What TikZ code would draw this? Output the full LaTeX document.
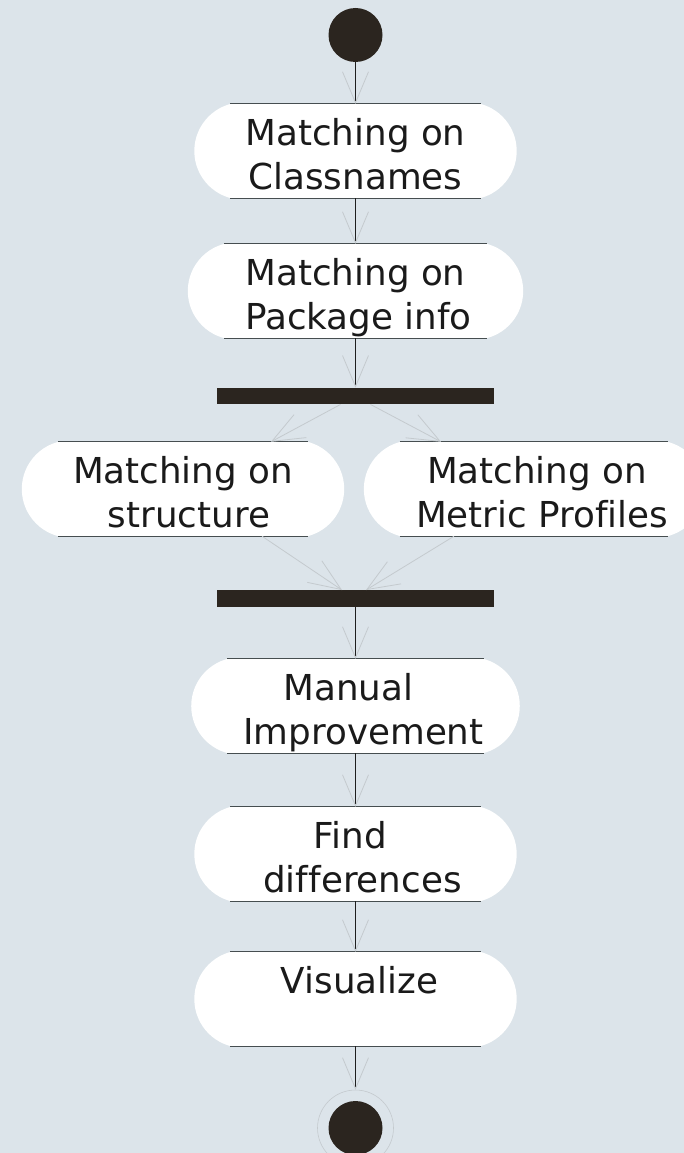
\documentclass[tikz,border=0pt]{standalone}
\usepackage{fontspec}
\setmainfont[Ligatures=NoCommon]{DejaVu Sans}
\usetikzlibrary{arrows.meta,calc,backgrounds}
\definecolor{bg}{RGB}{220,228,234}
\definecolor{ink}{RGB}{43,37,31}
\definecolor{rim}{RGB}{70,78,80}
\definecolor{wire}{RGB}{30,30,30}
\definecolor{pale}{RGB}{196,202,206}
\definecolor{txt}{RGB}{26,26,26}
\tikzset{
 act/.style={rectangle, inner sep=0pt, minimum width=250pt, minimum height=94pt,
   align=center, text=txt, font=\fontsize{35.7}{44}\selectfont,
   text height=83pt, text depth=7pt},
 oneline/.style={text height=27pt, text depth=39pt},
 bar/.style={rectangle, fill=ink, inner sep=0pt, minimum width=277pt, minimum height=16.5pt},
 startdot/.style={circle, fill=ink, inner sep=0pt, minimum size=54pt},
 enddot/.style={circle, draw=pale, line width=0.6pt, inner sep=0pt, minimum size=76pt,
   path picture={\fill[ink] (path picture bounding box.center) circle[radius=27pt];}},
 flow/.style={draw=wire, line width=0.9pt,
   -{Straight Barb[length=31pt,width=26pt,color=pale,line width=0.8pt]}},
 pflow/.style={draw=pale, line width=0.8pt,
   -{Straight Barb[length=32pt,width=26pt,line width=0.8pt]}},
 rimline/.style={draw=rim, line width=1.2pt},
}
\newcommand\actshape[1]{%
  \begin{scope}
    \clip ($(#1.north west)+(-40,0)$) rectangle ($(#1.south east)+(40,0)$);
    \fill[white] (#1.north west) rectangle (#1.south east);
    \fill[white] ($(#1.west)+(12.7,0)$) circle[radius=48.7pt];
    \fill[white] ($(#1.east)+(-12.7,0)$) circle[radius=48.7pt];
  \end{scope}
  \path[rimline] (#1.north west) -- (#1.north east) (#1.south west) -- (#1.south east);
}
\begin{document}
\begin{tikzpicture}[x=1pt,y=-1pt]
\useasboundingbox (0,0) rectangle (684,1153);
\node[startdot] (start) at (355.5,35) {};
\node[act] (n1) at (355.5,151) {Matching on\\Classnames};
\node[act, minimum width=263pt] (n2) at (355.5,291) {Matching on\\\hspace*{6pt}Package info};
\node[bar] (fork) at (355.5,396) {};
\node[act] (n3) at (183,489) {Matching on\\\hspace*{12pt}structure};
\node[act] (n4) at (534,489) {\hspace*{6pt}Matching on\\\hspace*{16pt}Metric Profiles};
\node[bar] (join) at (355.5,598.5) {};
\node[act] (n5) at (355.5,706) {Manual\hspace*{14pt}\\\hspace*{16pt}Improvement};
\node[act] (n6) at (355.5,854) {Find\hspace*{10pt}\\\hspace*{14pt}differences};
\node[act, oneline] (n7) at (355.5,999) {\hspace*{8pt}Visualize};
\node[enddot] (end) at (355.5,1128) {};
\begin{scope}[on background layer]
  \fill[bg] (0,0) rectangle (684,1153);
  \actshape{n1}\actshape{n2}\actshape{n3}\actshape{n4}\actshape{n5}\actshape{n6}\actshape{n7}
\end{scope}
\draw[flow] (start) -- (n1);
\draw[flow] (n1) -- (n2);
\draw[flow] (n2) -- (fork);
\draw[pflow] ($(fork.south)+(-15,0)$) -- ($(n3.north)+(88,0)$);
\draw[pflow] ($(fork.south)+(15,0)$) -- ($(n4.north)+(-93,0)$);
\draw[pflow] ($(n3.south)+(79,0)$) -- ($(join.north)+(-13.5,0)$);
\draw[pflow] ($(n4.south)+(-80,0)$) -- ($(join.north)+(10.5,0)$);
\draw[flow] (join) -- (n5);
\draw[flow] (n5) -- (n6);
\draw[flow] (n6) -- (n7);
\draw[flow] (n7) -- (end);
\end{tikzpicture}
\end{document}
